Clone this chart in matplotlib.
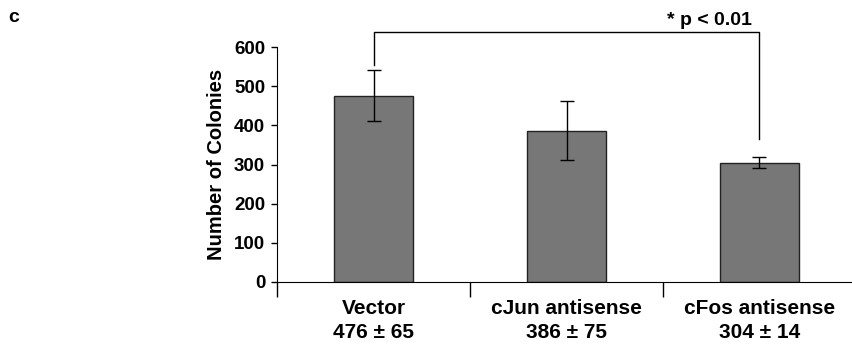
import matplotlib.pyplot as plt

plt.rcParams['font.family'] = ['Liberation Sans', 'DejaVu Sans']
plt.rcParams['font.weight'] = 'bold'
plt.rcParams['axes.labelweight'] = 'bold'

groups = ['Vector', 'cJun antisense', 'cFos antisense']
means = [476, 386, 304]
errors = [65, 75, 14]
yticks = [0, 100, 200, 300, 400, 500, 600]

W, H = 853, 347
fig = plt.figure(figsize=(W / 100, H / 100), dpi=100)
ax = fig.add_axes([277 / W, 65 / H, 579 / W, 235 / H])

x = list(range(len(groups)))
ax.bar(x, means, width=0.41, color='#777777', edgecolor='#222222', linewidth=1.0)
ax.errorbar(x, means, yerr=errors, fmt='none', ecolor='black', elinewidth=1.0,
            capsize=5, capthick=1.0)

ax.set_xlim(-0.5, 2.5)
ax.set_ylim(0, 600)
ax.set_yticks(yticks)
ax.tick_params(axis='y', length=4.5, width=1, pad=4, labelsize=13.5)

# boundary ticks below axis, labels in the middle
ax.set_xticks([-0.5, 0.5, 1.5, 2.5])
ax.set_xticklabels([])
ax.tick_params(axis='x', which='major', length=11, width=1, direction='out')
ax.set_xticks(x, minor=True)
ax.set_xticklabels([f'{g}\n{m} ± {e}' for g, m, e in zip(groups, means, errors)],
                   minor=True, fontsize=15, linespacing=1.35)
ax.tick_params(axis='x', which='minor', length=0, pad=12)

for s in ['top', 'right']:
    ax.spines[s].set_visible(False)

ax.set_ylabel('Number of Colonies', fontsize=14.5, labelpad=6)

# significance bracket
top = 638
ax.plot([0, 0, 2, 2], [554, top, top, 364], color='black', lw=1.0, clip_on=False)
ax.text(1.74, top + 8, '* p < 0.01', ha='center', va='bottom', fontsize=14)

fig.text(8 / W, 1 - 17 / H, 'c', fontsize=14, fontweight='bold', va='center')

fig.savefig('out.png', dpi=100)
